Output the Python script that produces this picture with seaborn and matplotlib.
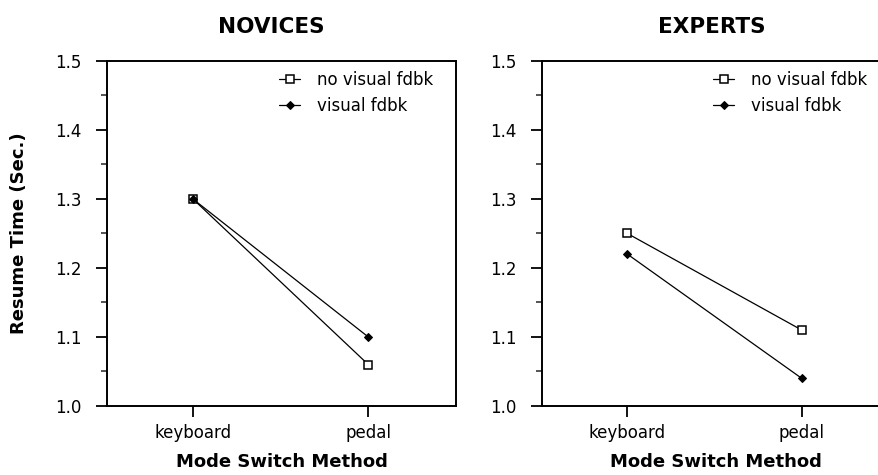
import matplotlib
matplotlib.use("Agg")
import matplotlib.pyplot as plt
import seaborn as sns
import pandas as pd
from matplotlib.ticker import MultipleLocator

# Data
methods = ["keyboard", "pedal"]
series_names = ["no visual fdbk", "visual fdbk"]
novice_no_fdbk = [1.30, 1.06]
novice_fdbk = [1.30, 1.10]
expert_no_fdbk = [1.25, 1.11]
expert_fdbk = [1.22, 1.04]

panels = {
    "NOVICES": [novice_no_fdbk, novice_fdbk],
    "EXPERTS": [expert_no_fdbk, expert_fdbk],
}

sns.set_style("ticks")
plt.rcParams["font.family"] = ["DejaVu Sans"]
plt.rcParams["text.color"] = "black"
plt.rcParams["axes.labelcolor"] = "black"

fig = plt.figure(figsize=(8.79, 4.75), dpi=100)
W, H = 879, 475
ax_pos = [(107, 456), (542, 889)]
title_x = [0.47, 0.49]
top, bottom = 61, 406

styles = [
    dict(marker="s", markerfacecolor="white", markeredgecolor="black", markersize=5.5, markeredgewidth=1.1),
    dict(marker="D", markerfacecolor="black", markeredgecolor="black", markersize=4.5),
]

for i, ((title, vals), (x0, x1)) in enumerate(zip(panels.items(), ax_pos)):
    ax = fig.add_axes([x0 / W, 1 - bottom / H, (x1 - x0) / W, (bottom - top) / H])
    for name, v, st in zip(series_names, vals, styles):
        df = pd.DataFrame({"method": methods, "time": v})
        sns.lineplot(data=df, x="method", y="time", ax=ax, color="black",
                     linewidth=0.9, label=name, **st)
    ax.set_xlim(-0.49, 1.5)
    ax.set_ylim(1.0, 1.5)
    ax.yaxis.set_major_locator(MultipleLocator(0.1))
    ax.yaxis.set_minor_locator(MultipleLocator(0.05))
    ax.set_yticklabels([f"{t:.1f}" for t in ax.get_yticks()])
    ax.tick_params(axis="both", which="major", length=8, width=1.3, labelsize=12,
                   direction="out", colors="black")
    ax.tick_params(axis="y", which="major", pad=10)
    ax.tick_params(axis="x", which="major", pad=5)
    ax.tick_params(axis="y", which="minor", length=4, width=1.1, direction="out")
    for sp in ax.spines.values():
        sp.set_linewidth(1.4)
        sp.set_color("black")
    ax.set_title(title, fontsize=15.5, fontweight="heavy", x=title_x[i], pad=20)
    ax.set_xlabel("Mode Switch Method", fontsize=13, fontweight="heavy")
    ax.xaxis.set_label_coords(0.5, -0.135)
    if i == 0:
        ax.set_ylabel("Resume Time (Sec.)", fontsize=13, fontweight="heavy")
        ax.yaxis.set_label_coords(-0.225, 0.5)
    else:
        ax.set_ylabel("")
    ax.legend(loc="upper left", bbox_to_anchor=(0.473, 0.99), frameon=False, fontsize=12,
              handlelength=1.3, handletextpad=1.0, labelspacing=0.45, borderaxespad=0)

fig.savefig("out.png", dpi=100)
